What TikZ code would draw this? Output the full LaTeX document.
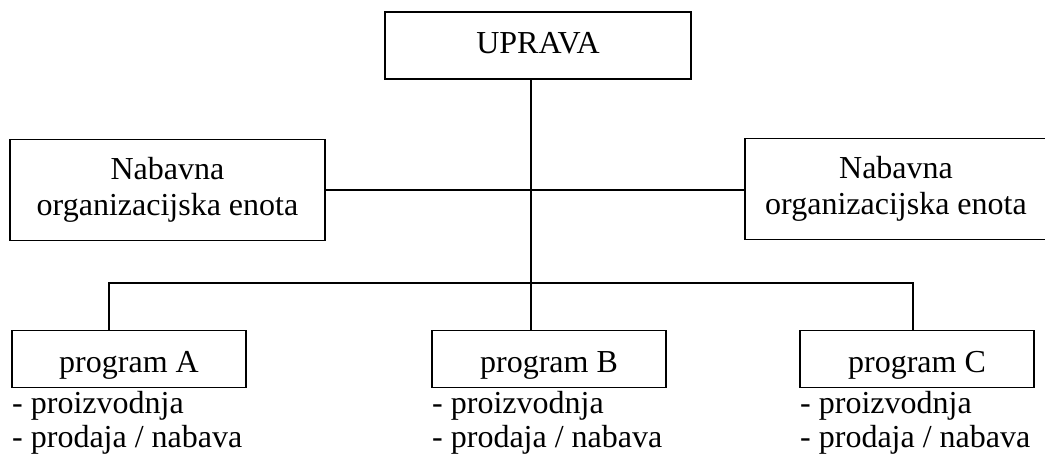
\documentclass[tikz,border=0pt]{standalone}
\usepackage{fontspec}
\setmainfont{Liberation Serif}
\begin{document}
\begin{tikzpicture}[x=1pt,y=-1pt,
  box/.style={draw, line width=1.4pt, inner sep=0pt, align=center,
    font=\fontsize{32}{36}\selectfont},
  conn/.style={line width=1.4pt},
  lst/.style={anchor=base west, inner sep=0pt, font=\fontsize{32}{36}\selectfont}]
\useasboundingbox (0,0) rectangle (1045,456);
\clip (0,0) rectangle (1045,456);
% boxes
\node[box, minimum width=306pt, minimum height=67pt, text height=22pt, text depth=7pt] (up) at (538,45.5) {UPRAVA};
\node[box, minimum width=315pt, minimum height=101pt] (nl) at (167.5,190) {Nabavna\\organizacijska enota};
\node[box, minimum width=302pt, minimum height=101pt] (nr) at (896,189) {Nabavna\\organizacijska enota};
\node[box, minimum width=234pt, minimum height=57pt, text height=30pt, text depth=4pt] (pa) at (129,359) {program A};
\node[box, minimum width=234pt, minimum height=57pt, text height=30pt, text depth=4pt] (pb) at (549,359) {program B};
\node[box, minimum width=234pt, minimum height=57pt, text height=30pt, text depth=4pt] (pc) at (917,359) {program C};
% lists
\node[lst] (a1) at (12,413) {- proizvodnja};
\node[lst] (a2) at (12,447) {- prodaja / nabava};
\node[lst] (b1) at (432,413) {- proizvodnja};
\node[lst] (b2) at (432,447) {- prodaja / nabava};
\node[lst] (c1) at (800,413) {- proizvodnja};
\node[lst] (c2) at (800,447) {- prodaja / nabava};
% connectors
\coordinate (spine) at (531,0);
\coordinate (dA) at (109,283);
\coordinate (dC) at (913,283);
\draw[conn] (up.south -| spine) -- (pb.north -| spine);
\draw[conn] (nl.east) -- (nl.east -| nr.west);
\draw[conn] (pa.north -| dA) -- (dA) -- (dC) -- (pc.north -| dC);
\end{tikzpicture}
\end{document}
